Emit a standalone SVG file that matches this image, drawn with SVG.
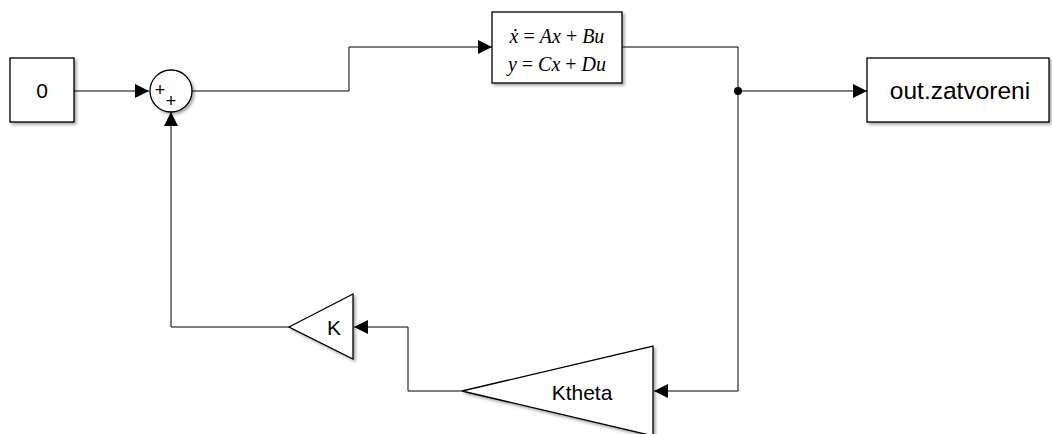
<svg xmlns="http://www.w3.org/2000/svg" width="1052" height="434" viewBox="0 0 1052 434">
<style>
.blk{fill:#fff;stroke:#000;stroke-width:1.3;filter:url(#sh)}
.wire{fill:none;stroke:#000;stroke-width:1}
.lbl{font-family:"Liberation Sans",Arial,sans-serif;fill:#000;text-anchor:middle;dominant-baseline:central}
.math{font-family:"Liberation Serif","Times New Roman",serif;font-size:20px;fill:#000;text-anchor:middle;dominant-baseline:central}
.it{font-style:italic}
</style>
<defs>
<filter id="sh" x="-20%" y="-20%" width="150%" height="150%">
<feDropShadow dx="2" dy="2" stdDeviation="1.5" flood-color="#000" flood-opacity="0.35"/>
</filter>
<marker id="arr" markerUnits="userSpaceOnUse" markerWidth="14" markerHeight="14" refX="14" refY="7" orient="auto">
<path d="M0,0 L14,7 L0,14 z" fill="#000"/>
</marker>
</defs>
<rect width="1052" height="434" fill="#fff"/>
<g id="connectors">
<path class="wire" d="M74,91 H149" marker-end="url(#arr)"/>
<path class="wire" d="M192,91 H349 V47 H492" marker-end="url(#arr)"/>
<path class="wire" d="M622,47 H738 V391 H654" marker-end="url(#arr)"/>
<path class="wire" d="M738,91 H867" marker-end="url(#arr)"/>
<path class="wire" d="M462,391 H408 V327 H354" marker-end="url(#arr)"/>
<path class="wire" d="M289,327 H171 V112" marker-end="url(#arr)"/>
<circle cx="738" cy="91" r="4" fill="#000"/>
</g>
<g id="const0">
<rect class="blk" x="10" y="58" width="64" height="64"/>
<text class="lbl" x="42" y="90" font-size="21">0</text>
</g>
<g id="sum">
<circle class="blk" cx="171" cy="91" r="21"/>
<text class="lbl" x="160" y="90" font-size="18">+</text>
<text class="lbl" x="171" y="101" font-size="18">+</text>
</g>
<g id="statespace">
<rect class="blk" x="492" y="12" width="130" height="71"/>
<text class="math" x="557" y="36"><tspan class="it">ẋ</tspan> = <tspan class="it">Ax</tspan> + <tspan class="it">Bu</tspan></text>
<text class="math" x="557" y="64"><tspan class="it">y</tspan> = <tspan class="it">Cx</tspan> + <tspan class="it">Du</tspan></text>
</g>
<g id="out">
<rect class="blk" x="867" y="58" width="182" height="64"/>
<text class="lbl" x="960" y="90" font-size="24.5">out.zatvoreni</text>
</g>
<g id="ktheta">
<polygon class="blk" points="462,391 653,346 653,436"/>
<text class="lbl" x="582" y="392" font-size="21">Ktheta</text>
</g>
<g id="k">
<polygon class="blk" points="289,327 353,294 353,359"/>
<text class="lbl" x="334" y="327" font-size="21">K</text>
</g>
</svg>
